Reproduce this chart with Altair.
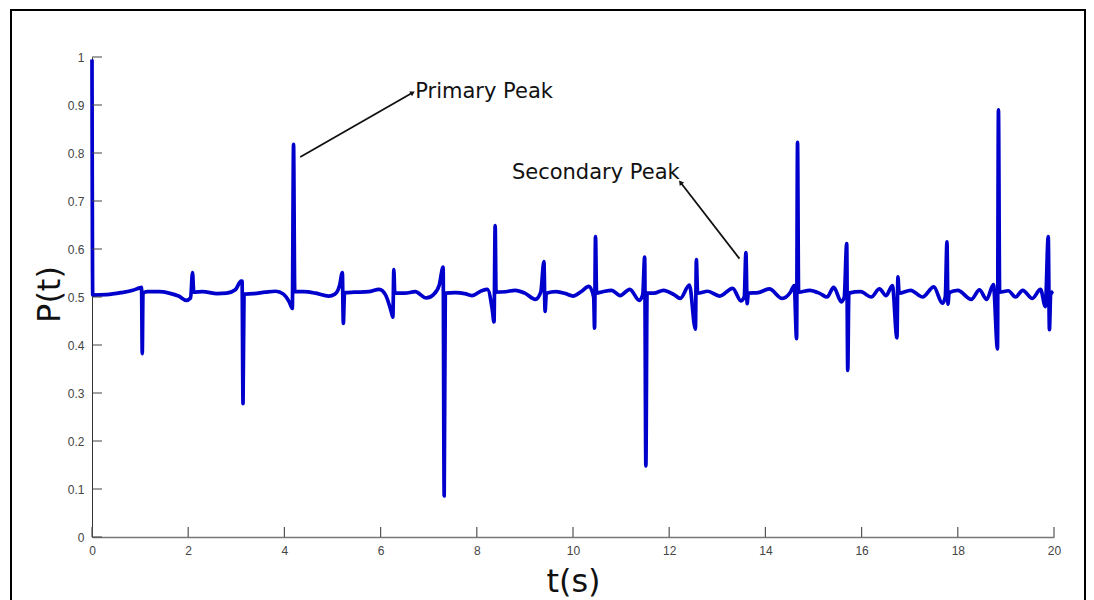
import altair as alt
import pandas as pd

# ---- signal P(t) ----
t_vals = [
    0.000, 0.015, 0.30, 0.60, 0.85, 0.99,
    1.03, 1.045, 1.06,
    1.15, 1.40, 1.60, 1.80, 1.96,
    2.05, 2.09, 2.115,
    2.30, 2.60, 2.80, 2.98, 3.10,
    3.12, 3.14, 3.16,
    3.35, 3.60, 3.82, 3.98, 4.10, 4.165,
    4.19, 4.215,
    4.40, 4.65, 4.92, 5.05, 5.15, 5.205,
    5.225, 5.25,
    5.45, 5.75, 5.97, 6.10, 6.22, 6.255,
    6.275, 6.295,
    6.50, 6.72, 6.95, 7.10, 7.22, 7.30,
    7.322, 7.345,
    7.55, 7.75, 7.90, 8.10, 8.22, 8.32, 8.358,
    8.382, 8.40,
    8.60, 8.80, 9.00, 9.22, 9.33, 9.395,
    9.42, 9.445,
    9.65, 9.85, 10.00, 10.18, 10.33, 10.43, 10.448,
    10.468, 10.49,
    10.62, 10.80, 10.98, 11.18, 11.38, 11.45, 11.49,
    11.515, 11.54,
    11.68, 11.88, 12.10, 12.23, 12.42, 12.545,
    12.565, 12.59,
    12.80, 13.05, 13.32, 13.49, 13.56, 13.595,
    13.62, 13.645,
    13.85, 14.08, 14.35, 14.52, 14.60, 14.648,
    14.668, 14.69,
    14.92, 15.14, 15.28, 15.42, 15.58, 15.64, 15.69,
    15.712, 15.735,
    15.98, 16.20, 16.37, 16.51, 16.64, 16.735,
    16.755, 16.78,
    17.02, 17.27, 17.50, 17.68, 17.74, 17.775,
    17.795, 17.82,
    18.00, 18.28, 18.45, 18.60, 18.74, 18.825,
    18.845, 18.87,
    19.05, 19.20, 19.35, 19.55, 19.72, 19.82, 19.88,
    19.905, 19.93, 19.98,
]
p_vals = [
    0.995, 0.504, 0.505, 0.509, 0.514, 0.519,
    0.520, 0.382, 0.508,
    0.511, 0.511, 0.508, 0.502, 0.493,
    0.498, 0.551, 0.510,
    0.511, 0.507, 0.508, 0.515, 0.533,
    0.533, 0.278, 0.506,
    0.507, 0.510, 0.512, 0.506, 0.490, 0.476,
    0.818, 0.511,
    0.511, 0.508, 0.502, 0.506, 0.525, 0.551,
    0.445, 0.509,
    0.510, 0.511, 0.516, 0.505, 0.470, 0.458,
    0.557, 0.508,
    0.508, 0.511, 0.498, 0.505, 0.525, 0.5625,
    0.0855, 0.508,
    0.509, 0.507, 0.503, 0.513, 0.516, 0.475, 0.448,
    0.649, 0.510,
    0.511, 0.514, 0.508, 0.495, 0.510, 0.574,
    0.470, 0.508,
    0.511, 0.507, 0.502, 0.512, 0.522, 0.500, 0.435,
    0.626, 0.508,
    0.511, 0.514, 0.503, 0.516, 0.493, 0.505, 0.583,
    0.148, 0.508,
    0.508, 0.514, 0.505, 0.497, 0.525, 0.433,
    0.578, 0.508,
    0.512, 0.502, 0.518, 0.492, 0.500, 0.5925,
    0.486, 0.508,
    0.509, 0.517, 0.497, 0.510, 0.524, 0.413,
    0.822, 0.510,
    0.514, 0.507, 0.500, 0.520, 0.490, 0.500, 0.611,
    0.347, 0.508,
    0.511, 0.500, 0.517, 0.503, 0.524, 0.415,
    0.542, 0.508,
    0.514, 0.500, 0.521, 0.487, 0.500, 0.615,
    0.485, 0.509,
    0.514, 0.495, 0.515, 0.495, 0.526, 0.392,
    0.890, 0.510,
    0.513, 0.500, 0.514, 0.497, 0.516, 0.480, 0.626,
    0.432, 0.505, 0.512,
]

x_ticks = [0, 2, 4, 6, 8, 10, 12, 14, 16, 18, 20]
y_ticks = [0, 0.1, 0.2, 0.3, 0.4, 0.5, 0.6, 0.7, 0.8, 0.9, 1.0]

# annotations (data coordinates)
ann_text = ["Primary Peak", "Secondary Peak"]
ann_t = [6.72, 8.73]
ann_p = [0.9154, 0.7467]
arrow_t0 = [4.33, 13.46]
arrow_p0 = [0.7917, 0.580]
arrow_t1 = [6.653, 12.245]
arrow_p1 = [0.925, 0.7375]
arrow_angle = [60, 322]

W, H = 962, 480
PAD_L, PAD_T = 92, 57

sig = pd.DataFrame({"t": t_vals, "P": p_vals})
xs = alt.Scale(domain=[0, 20], nice=False, zero=False)
ys = alt.Scale(domain=[0, 1], nice=False, zero=False)

line = alt.Chart(sig).mark_line(
    color="#0000cd", strokeWidth=3.7, interpolate="monotone", strokeJoin="round"
).encode(
    x=alt.X("t:Q", scale=xs, axis=alt.Axis(
        values=x_ticks, tickSize=0, grid=False, labelFlush=False, labelOverlap=False,
        labelFont="Liberation Sans", labelFontSize=12, labelColor="#444",
        labelPadding=8, domainColor="#777", domainWidth=1.5,
        title="t(s)", titleFont="DejaVu Sans", titleFontSize=32,
        titleFontWeight="normal", titleColor="#111", titleY=54,
        titleBaseline="alphabetic")),
    y=alt.Y("P:Q", scale=ys, axis=alt.Axis(
        values=y_ticks, format="~g", tickSize=0, grid=False,
        labelFont="Liberation Sans", labelFontSize=12, labelColor="#444",
        labelPadding=8, domainColor="#333", domainWidth=1,
        title="P(t)", titleFont="DejaVu Sans", titleFontSize=32,
        titleFontWeight="normal", titleColor="#111", titleX=-33, titleY=237,
        titleAlign="center", titleBaseline="alphabetic")),
)

ytick_layer = alt.Chart(pd.DataFrame({"P": y_ticks})).mark_rule(
    color="#444", strokeWidth=1
).encode(y=alt.Y("P:Q", scale=ys), x=alt.value(0), x2=alt.value(10))

xtick_layer = alt.Chart(pd.DataFrame({"t": x_ticks})).mark_rule(
    color="#555", strokeWidth=1.2
).encode(x=alt.X("t:Q", scale=xs), y=alt.value(H), y2=alt.value(H - 10))

arrows_df = pd.DataFrame({
    "t0": arrow_t0, "p0": arrow_p0, "t1": arrow_t1, "p1": arrow_p1, "ang": arrow_angle
})
arrow_lines = alt.Chart(arrows_df).mark_rule(color="#111", strokeWidth=1.8).encode(
    x=alt.X("t0:Q", scale=xs), y=alt.Y("p0:Q", scale=ys),
    x2="t1:Q", y2="p1:Q",
)
arrow_heads = alt.Chart(arrows_df).mark_point(
    shape="triangle", filled=True, color="#111", size=30, opacity=1
).encode(
    x=alt.X("t1:Q", scale=xs), y=alt.Y("p1:Q", scale=ys),
    angle=alt.Angle("ang:Q", scale=None),
)

texts = alt.Chart(pd.DataFrame({"txt": ann_text, "t": ann_t, "P": ann_p})).mark_text(
    font="DejaVu Sans", fontSize=21, color="#111", align="left", baseline="alphabetic"
).encode(x=alt.X("t:Q", scale=xs), y=alt.Y("P:Q", scale=ys), text="txt:N")

frame = alt.Chart(pd.DataFrame({"a": [0]})).mark_rect(
    fill="transparent", stroke="#000", strokeWidth=2
).encode(
    x=alt.value(11 - PAD_L), x2=alt.value(1085 - PAD_L),
    y=alt.value(10 - PAD_T), y2=alt.value(640 - PAD_T),
)

chart = alt.layer(
    frame, line, ytick_layer, xtick_layer, arrow_lines, arrow_heads, texts
).properties(
    width=W, height=H,
    autosize=alt.AutoSizeParams(type="none"),
    padding={"left": PAD_L, "top": PAD_T, "right": 1094 - PAD_L - W, "bottom": 600 - PAD_T - H},
    background="white",
).configure_view(strokeWidth=0)

chart.save("out.html", embed_options={"renderer": "svg", "actions": False})
